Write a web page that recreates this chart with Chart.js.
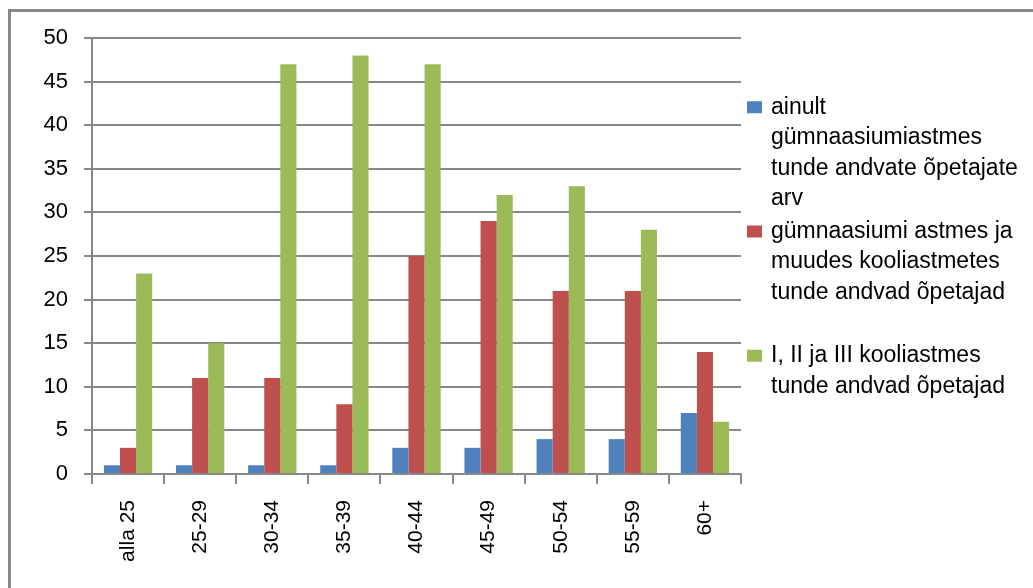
<!DOCTYPE html>
<html>
<head>
  <meta charset="utf-8">
  <title>Õpetajad vanuserühmade kaupa</title>
  <script src="https://cdn.jsdelivr.net/npm/chart.js@4.4.0/dist/chart.umd.min.js"></script>
  <style>
    * { margin: 0; padding: 0; box-sizing: border-box; }
    html, body { width: 1033px; height: 588px; overflow: hidden; background: #fff; }
    .frame { position: absolute; left: 8px; top: 9px; width: 1100px; height: 700px; border: 3px solid #888; }
    canvas { position: absolute; left: 0; top: 0; }
  </style>
</head>
<body>
  <div class="frame"></div>
  <canvas id="chart" width="1033" height="588"></canvas>

  <script>
    // age groups
    const categories = ['alla 25', '25-29', '30-34', '35-39', '40-44', '45-49', '50-54', '55-59', '60+'];

    // teacher counts per series
    const onlyUpper = [1, 1, 1, 1, 3, 3, 4, 4, 7];
    const upperAndOther = [3, 11, 11, 8, 25, 29, 21, 21, 14];
    const lowerLevels = [23, 15, 47, 48, 47, 32, 33, 28, 6];

    const seriesNames = [
      'ainult gümnaasiumiastmes tunde andvate õpetajate arv',
      'gümnaasiumi astmes ja muudes kooliastmetes tunde andvad õpetajad',
      'I, II ja III kooliastmes tunde andvad õpetajad'
    ];
    // legend text wrapped as in the original
    const legendLines = [
      ['ainult', 'gümnaasiumiastmes', 'tunde andvate õpetajate', 'arv'],
      ['gümnaasiumi astmes ja', 'muudes kooliastmetes', 'tunde andvad õpetajad'],
      ['I, II ja III kooliastmes', 'tunde andvad õpetajad']
    ];

    const yTicks = [0, 5, 10, 15, 20, 25, 30, 35, 40, 45, 50];

    const colors = ['#4F81BD', '#C0504D', '#9BBB59'];
    const font = '"Liberation Sans", Arial, sans-serif';

    // legend on the right, one block per series
    const sideLegend = {
      id: 'sideLegend',
      afterDraw(chart) {
        const ctx = chart.ctx;
        ctx.save();
        ctx.font = '23px ' + font;
        ctx.textBaseline = 'middle';
        ctx.textAlign = 'left';
        chart.data.datasets.forEach((ds, i) => {
          const lines = legendLines[i];
          const cy = 153 + i * 109;
          const y0 = cy - (lines.length - 1) * 30.5 / 2;
          ctx.fillStyle = ds.backgroundColor;
          ctx.fillRect(747, y0 - 6, 15, 12);
          ctx.fillStyle = '#000';
          lines.forEach((l, j) => ctx.fillText(l, 771, y0 + j * 30.5));
        });
        ctx.restore();
      }
    };

    new Chart(document.getElementById('chart'), {
      type: 'bar',
      data: {
        labels: categories,
        datasets: [onlyUpper, upperAndOther, lowerLevels].map((d, i) => ({
          label: seriesNames[i],
          data: d,
          backgroundColor: colors[i],
          borderWidth: 0,
          categoryPercentage: 0.67,
          barPercentage: 1.0
        }))
      },
      options: {
        responsive: false,
        animation: false,
        devicePixelRatio: 1,
        layout: { padding: { left: 0, right: 292, top: 38, bottom: 0 } },
        plugins: {
          legend: { display: false },
          tooltip: { enabled: false }
        },
        scales: {
          x: {
            grid: { drawOnChartArea: false, tickLength: 10, color: '#888', lineWidth: 2 },
            border: { color: '#888', width: 2 },
            ticks: {
              color: '#000',
              font: { size: 21, family: font },
              minRotation: 90,
              maxRotation: 90,
              padding: 16
            },
            afterFit: s => { s.height = 114; }
          },
          y: {
            min: 0,
            max: 50,
            afterBuildTicks: s => { s.ticks = yTicks.map(v => ({ value: v })); },
            grid: { color: '#888', lineWidth: 2, tickLength: 8 },
            border: { color: '#888', width: 2 },
            ticks: {
              color: '#000',
              font: { size: 22, family: font },
              padding: 16
            },
            afterFit: s => { s.width = 92; }
          }
        }
      },
      plugins: [sideLegend]
    });
  </script>
</body>
</html>
